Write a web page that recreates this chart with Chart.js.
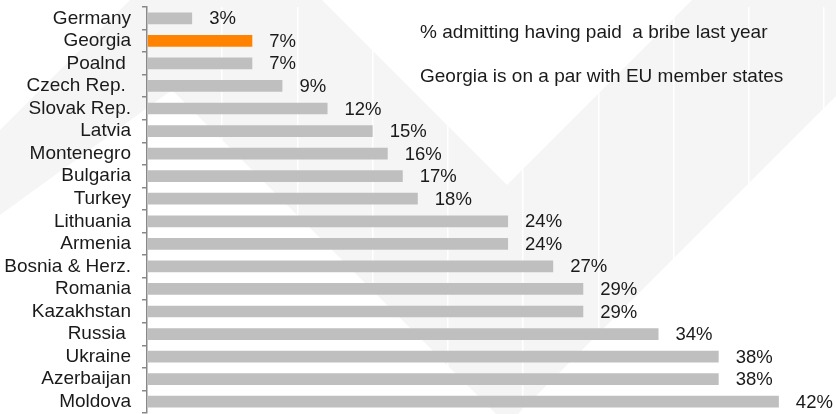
<!DOCTYPE html>
<html>
<head>
<meta charset="utf-8">
<script src="https://cdn.jsdelivr.net/npm/chart.js@4/dist/chart.umd.min.js"></script>
<style>
    html, body { margin: 0; padding: 0; background: #ffffff; }
    .bribe_chart_container { position: relative; width: 836px; height: 414px; }
</style>
</head>
<body>
<div class="bribe_chart_container">
    <canvas id="bribes"></canvas>
</div>
<script>
// trailing spaces are part of the original labels
const countries = ['Germany', 'Georgia', 'Poalnd ', 'Czech Rep. ', 'Slovak Rep.', 'Latvia', 'Montenegro',
    'Bulgaria', 'Turkey', 'Lithuania', 'Armenia', 'Bosnia & Herz.', 'Romania', 'Kazakhstan',
    'Russia ', 'Ukraine', 'Azerbaijan', 'Moldova'];
const paidBribe = [3, 7, 7, 9, 12, 15, 16, 17, 18, 24, 24, 27, 29, 29, 34, 38, 38, 42];
const highlight = 'Georgia';
const notes = ['% admitting having paid  a bribe last year', 'Georgia is on a par with EU member states'];

const FONT = '"Liberation Sans", Arial, Helvetica, sans-serif';
const INK = '#1a1a1a';

// faint chevron shapes behind the plot
const backdrop = {
    id: 'backdrop',
    beforeDraw(chart) {
        const ctx = chart.ctx;
        ctx.save();
        ctx.fillStyle = '#f5f5f5';
        ctx.beginPath();
        ctx.moveTo(130, 0);
        ctx.lineTo(322, 0);
        ctx.lineTo(507, 185);
        ctx.lineTo(692, 0);
        ctx.lineTo(836, 0);
        ctx.lineTo(836, 96);
        ctx.lineTo(518, 414);
        ctx.lineTo(496, 414);
        ctx.lineTo(172, 90);
        ctx.lineTo(0, 215);
        ctx.lineTo(0, 130);
        ctx.closePath();
        ctx.fill();
        ctx.restore();
    }
};

// value labels to the right of each bar, plus the two notes
const annotate = {
    id: 'annotate',
    afterDatasetsDraw(chart) {
        const ctx = chart.ctx;
        ctx.save();
        ctx.fillStyle = INK;
        ctx.textAlign = 'left';
        ctx.textBaseline = 'middle';
        ctx.font = '18.5px ' + FONT;
        chart.getDatasetMeta(0).data.forEach((bar, i) => {
            ctx.fillText(paidBribe[i] + '%', bar.x + 17, bar.y + 1);
        });
        ctx.font = '19px ' + FONT;
        ctx.fillText(notes[0], 420, 33);
        ctx.fillText(notes[1], 420, 77);
        ctx.restore();
    }
};

new Chart(document.getElementById('bribes'), {
    type: 'bar',
    data: {
        labels: countries,
        datasets: [{
            data: paidBribe,
            backgroundColor: countries.map(c => c === highlight ? '#ff8300' : '#bfbfbf'),
            borderWidth: 0,
            barPercentage: 0.52,
            categoryPercentage: 1
        }]
    },
    options: {
        indexAxis: 'y',
        responsive: true,
        maintainAspectRatio: false,
        animation: false,
        layout: { padding: { top: 7, bottom: 1, right: 12, left: 0 } },
        plugins: {
            legend: { display: false },
            tooltip: { enabled: false }
        },
        scales: {
            x: {
                min: 0,
                max: 45,
                ticks: { display: false, stepSize: 5 },
                grid: { color: '#ffffff', lineWidth: 1.5, drawTicks: false },
                border: { display: false },
                afterFit(scale) { scale.height = 0; }
            },
            y: {
                ticks: {
                    color: INK,
                    padding: 11,
                    autoSkip: false,
                    font: { family: FONT, size: 19 }
                },
                grid: {
                    drawOnChartArea: false,
                    tickLength: 5,
                    color: '#888888',
                    lineWidth: 1.5,
                    offset: true
                },
                border: { color: '#888888', width: 1.5 },
                afterFit(scale) {
                    scale.width = 147;
                    scale.paddingTop = 0;
                    scale.paddingBottom = 0;
                }
            }
        }
    },
    plugins: [backdrop, annotate]
});
</script>
</body>
</html>
